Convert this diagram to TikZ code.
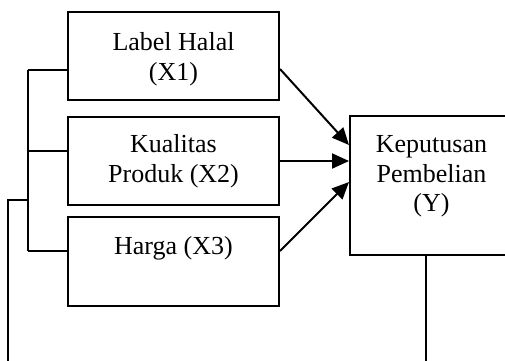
\documentclass[tikz,border=0pt]{standalone}
\usepackage{fontspec}
\setmainfont{Liberation Serif}
\usetikzlibrary{arrows.meta}
\begin{document}
\begin{tikzpicture}[x=1pt,y=-1pt,line width=2pt,
  box/.style={draw,rectangle,inner sep=0pt},
  lbl/.style={anchor=base,align=center,inner sep=0pt,font=\fontsize{26}{29.5}\selectfont},
  arr/.style={-{Triangle[length=17pt,width=15pt]}}]
\useasboundingbox (0,0) rectangle (505,360);
\clip (0,0) rectangle (505,360);
% boxes
\node[box,minimum width=211pt,minimum height=88pt] (b1) at (173.5,56) {};
\node[box,minimum width=211pt,minimum height=88pt] (b2) at (173.5,161) {};
\node[box,minimum width=211pt,minimum height=89pt] (b3) at (173.5,261.5) {};
\node[box,minimum width=163pt,minimum height=139pt] (by) at (431.5,185.5) {};
% labels (anchor base = last line baseline)
\node[lbl] (t1) at (173.5,80) {Label Halal\\(X1)};
\node[lbl] (t2) at (173.5,182) {Kualitas\\Produk (X2)};
\node[lbl] (t3) at (173.5,254) {Harga (X3)};
\node[lbl] (ty) at (431.5,211.5) {Keputusan\\Pembelian\\(Y)};
% bracket
\coordinate (j1) at (28,70);
\coordinate (j2) at (28,151);
\coordinate (j3) at (28,251);
\coordinate (j0) at (28,200);
\coordinate (e0) at (8,362);
\draw (j1) -- (j3);
\draw (j1) -- (j1 -| b1.west);
\draw (j2) -- (j2 -| b2.west);
\draw (j3) -- (j3 -| b3.west);
\draw (e0) |- (j0);
% bottom line from Y
\coordinate (yb) at (426,362);
\draw (yb |- by.south) -- (yb);
% arrows
\draw[arr] ([yshift=-13pt]b1.east) -- ([yshift=40.5pt]by.west);
\draw[arr] (b2.east) -- ([yshift=24.5pt]by.west);
\draw[arr] ([yshift=10.5pt]b3.east) -- ([yshift=3.5pt]by.west);
\end{tikzpicture}
\end{document}
